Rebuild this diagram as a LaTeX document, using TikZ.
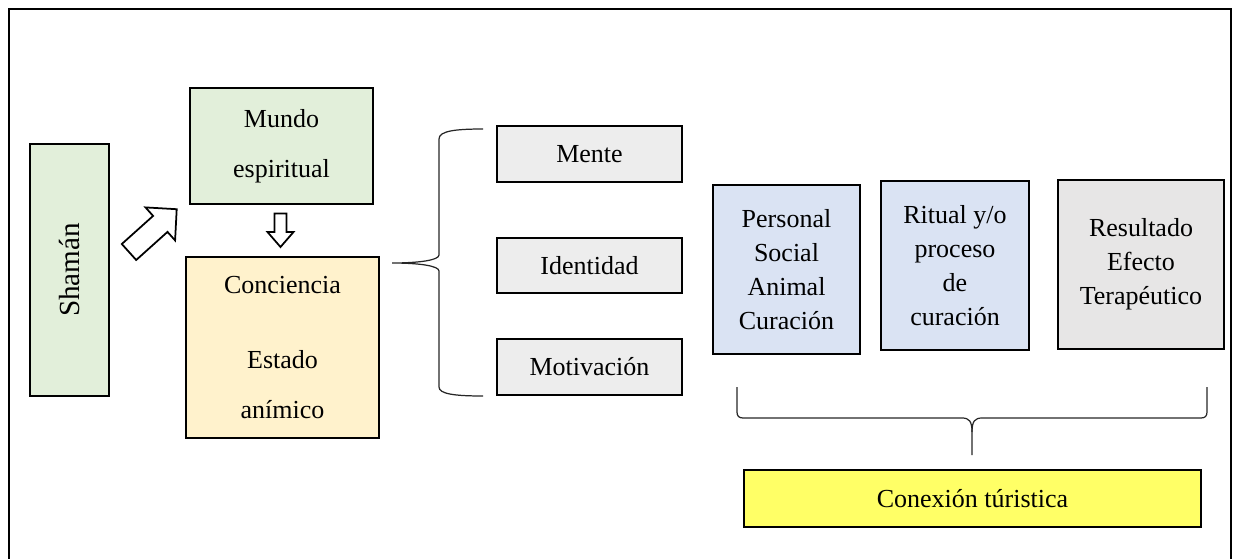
\documentclass[tikz,border=0pt]{standalone}
\usepackage{fontspec}
\setmainfont{Liberation Serif}
\usetikzlibrary{calc}

\definecolor{verdeclaro}{HTML}{E2EFDA}
\definecolor{crema}{HTML}{FFF2CC}
\definecolor{grisclaro}{HTML}{EDEDED}
\definecolor{azulclaro}{HTML}{DAE3F3}
\definecolor{grismedio}{HTML}{E7E6E6}
\definecolor{amarillo}{HTML}{FFFF66}

\tikzset{
	caja/.style={draw=black, line width=1.3pt, inner sep=0pt, align=center, font=\fontsize{14.8}{19.4}\selectfont},
	cajaamplia/.style={caja, font=\fontsize{14.8}{28.4}\selectfont},
	flecha/.style={draw=black, line width=1pt, fill=white, line join=miter},
	llave/.style={draw=black!85, line width=0.7pt},
}

\begin{document}
\begin{tikzpicture}[x=0.02cm, y=-0.02cm]
		\useasboundingbox (0,0) rectangle (1233,558);

		% marco
		\draw[line width=1.1pt] (9,562) -- (9,9) -- (1231,9) -- (1231,562);

		% columna izquierda
		\node[caja, fill=verdeclaro, rotate=90, minimum width=5.04cm, minimum height=1.58cm, font=\fontsize{16.6}{19.4}\selectfont] (shaman) at (69.5,270) {Shamán};
		\node[cajaamplia, fill=verdeclaro, minimum width=3.66cm, minimum height=2.32cm] (mundo) at (281.5,146) {Mundo\\espiritual};
		\node[cajaamplia, fill=crema, minimum width=3.86cm, minimum height=3.62cm] (conciencia) at (282.5,347.5) {Conciencia\\[14.2pt]Estado\\anímico};

		% flechas de bloque
		\draw[flecha] (121.8,244) -- (153.1,215.9) -- (145.5,207.4) -- (176.7,209.2) -- (175.1,240.4) -- (167.5,231.9) -- (136.2,260) -- cycle;
		\draw[flecha] (274.5,213.5) -- (286.5,213.5) -- (286.5,232) -- (293.5,232) -- (280.5,247) -- (267.5,232) -- (274.5,232) -- cycle;

		% columna central
		\node[caja, fill=grisclaro, minimum width=3.7cm, minimum height=1.12cm] (mente) at (589.5,154) {Mente};
		\node[caja, fill=grisclaro, minimum width=3.7cm, minimum height=1.1cm] (identidad) at (589.5,265.5) {Identidad};
		\node[caja, fill=grisclaro, minimum width=3.7cm, minimum height=1.12cm] (motivacion) at (589.5,367) {Motivación};

		% llave vertical
		\draw[llave] (483,129) .. controls (455,129) and (439,131) .. (439,139) -- (439,255)
			.. controls (439,260) and (420,263) .. (392,263)
			.. controls (420,263) and (439,266) .. (439,271) -- (439,387)
			.. controls (439,394) and (455,396) .. (483,396);

		% columna derecha
		\node[caja, fill=azulclaro, minimum width=2.94cm, minimum height=3.38cm] (personal) at (786.5,269.5) {Personal\\Social\\Animal\\Curación};
		\node[caja, fill=azulclaro, minimum width=2.96cm, minimum height=3.38cm] (ritual) at (955,265.5) {Ritual y/o\\proceso\\de\\curación};
		\node[caja, fill=grismedio, minimum width=3.32cm, minimum height=3.38cm] (resultado) at (1141,264.5) {Resultado\\Efecto\\Terapéutico};

		% llave horizontal
		\draw[llave] (737,387) -- (737,412) .. controls (737,416) and (739,418) .. (743,418) -- (962,418)
			.. controls (969,418) and (972,421) .. (972,432) -- (972,455);
		\draw[llave] (972,432) .. controls (972,421) and (975,418) .. (982,418) -- (1201,418)
			.. controls (1205,418) and (1207,416) .. (1207,412) -- (1207,387);

		\node[caja, fill=amarillo, minimum width=9.14cm, minimum height=1.14cm] (conexion) at (972.5,498.5) {Conexión túristica};
	\end{tikzpicture}
\end{document}
